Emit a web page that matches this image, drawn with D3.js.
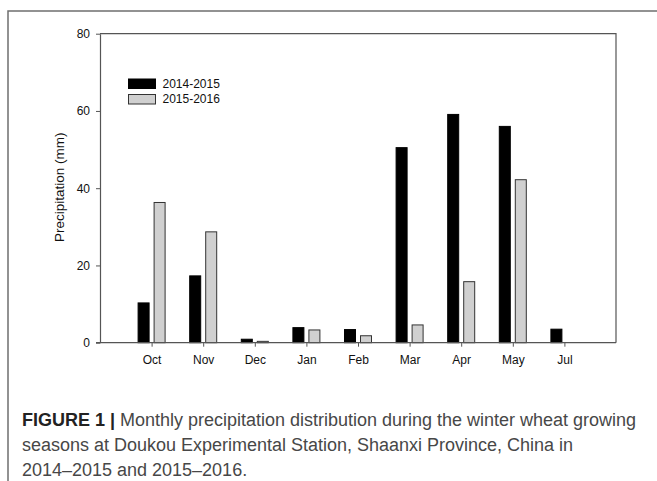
<!DOCTYPE html>
<html>
<head>
<meta charset="utf-8">
<script src="https://cdn.jsdelivr.net/npm/d3@7"></script>
<style>
  html, body { margin: 0; padding: 0; background: #fff; }
  svg { display: block; }
</style>
</head>
<body>
<svg id="chart" width="657" height="481"></svg>
<script>
// Monthly precipitation (mm) for two winter wheat seasons
const months = ["Oct", "Nov", "Dec", "Jan", "Feb", "Mar", "Apr", "May", "Jul"];
const season1415 = [10.3, 17.3, 0.9, 3.9, 3.4, 50.5, 59.1, 56.0, 3.5];
const season1516 = [36.3, 28.7, 0.35, 3.3, 1.8, 4.6, 15.8, 42.2, null];
const seriesNames = ["2014-2015", "2015-2016"];
const yTicks = [0, 20, 40, 60, 80];

const svg = d3.select("#chart");
const font = "'Liberation Sans', Arial, sans-serif";

// Outer panel frame (top and left edges)
svg.append("path")
  .attr("d", "M8,481 V11 H657")
  .attr("fill", "none").attr("stroke", "#6f6f6f").attr("stroke-width", 1.5);

const plot = { left: 100, right: 616, top: 33.7, bottom: 342.7 };

const x = d3.scalePoint().domain(months).range([plot.left, plot.right]).padding(1);
const y = d3.scaleLinear().domain([0, 80]).range([plot.bottom, plot.top]);

// Top and right frame of the plotting area
svg.append("path")
  .attr("d", `M${plot.left},${plot.top} H${plot.right} V${plot.bottom}`)
  .attr("fill", "none").attr("stroke", "#555").attr("stroke-width", 1.2);

const barW = 12, gap = 2;
const colors = ["#000000", "#d0d0d0"];
const strokes = ["#000000", "#333333"];

[season1415, season1516].forEach((vals, s) => {
  svg.append("g").selectAll("rect")
    .data(months.map((m, i) => ({ m, v: vals[i] })).filter(d => d.v != null && d.v > 0))
    .join("rect")
    .attr("x", d => s === 0 ? x(d.m) - gap - barW + 0.5 : x(d.m) + gap + 0.5)
    .attr("width", barW - 1)
    .attr("y", d => y(d.v))
    .attr("height", d => y(0) - y(d.v))
    .attr("fill", colors[s])
    .attr("stroke", strokes[s])
    .attr("stroke-width", 1);
});

// Y axis
const yAxis = svg.append("g")
  .attr("transform", `translate(${plot.left},0)`)
  .call(d3.axisLeft(y).tickValues(yTicks).tickSize(4).tickPadding(6).tickSizeOuter(0));
yAxis.select(".domain").attr("stroke", "#555").attr("stroke-width", 1.2);
yAxis.selectAll(".tick line").attr("stroke", "#555");
yAxis.selectAll("text").attr("font-family", font).attr("font-size", 12).attr("fill", "#111");

// X axis
const xAxis = svg.append("g")
  .attr("transform", `translate(0,${plot.bottom})`)
  .call(d3.axisBottom(x).tickSize(4).tickPadding(8.5).tickSizeOuter(0));
xAxis.select(".domain").remove();
svg.append("line")
  .attr("x1", plot.left - 4).attr("x2", plot.right)
  .attr("y1", plot.bottom).attr("y2", plot.bottom)
  .attr("stroke", "#555").attr("stroke-width", 1.2);
xAxis.selectAll(".tick line").attr("stroke", "#555");
xAxis.selectAll("text").attr("font-family", font).attr("font-size", 12).attr("fill", "#111");

// Y axis title
svg.append("text")
  .attr("transform", `translate(64,${(plot.top + plot.bottom) / 2 - 1}) rotate(-90)`)
  .attr("text-anchor", "middle")
  .attr("font-family", font).attr("font-size", 13.5).attr("fill", "#111")
  .text("Precipitation (mm)");

// Legend
const legend = svg.append("g").attr("transform", "translate(128.5,79)");
seriesNames.forEach((name, i) => {
  legend.append("rect")
    .attr("x", 0).attr("y", i * 15.5)
    .attr("width", 27).attr("height", 9.5)
    .attr("fill", colors[i]).attr("stroke", strokes[i]).attr("stroke-width", 1);
  legend.append("text")
    .attr("x", 34).attr("y", i * 14.5 + 9)
    .attr("font-family", font).attr("font-size", 12).attr("fill", "#111")
    .text(name);
});

// Figure caption
const captionLines = [
  [["FIGURE 1 | ", true], ["Monthly precipitation distribution during the winter wheat growing", false]],
  [["seasons at Doukou Experimental Station, Shaanxi Province, China in", false]],
  [["2014\u20132015 and 2015\u20132016.", false]]
];
const capNodes = captionLines.map((parts, i) => {
  const t = svg.append("text")
    .attr("x", 22).attr("y", 426 + i * 25)
    .attr("font-family", font).attr("font-size", 18);
  parts.forEach(([txt, bold]) => {
    t.append("tspan").attr("font-weight", bold ? "bold" : "normal")
      .attr("fill", bold ? "#222" : "#474747").text(txt);
  });
  return t;
});
// Adjust the caption tracking so the first line spans the text column
const firstNode = capNodes[0].node();
const natural = firstNode.getComputedTextLength();
const nChars = captionLines[0].map(p => p[0]).join("").length;
const spacing = (614 - natural) / nChars;
capNodes.forEach(t => t.attr("letter-spacing", spacing.toFixed(3)));
</script>
</body>
</html>
